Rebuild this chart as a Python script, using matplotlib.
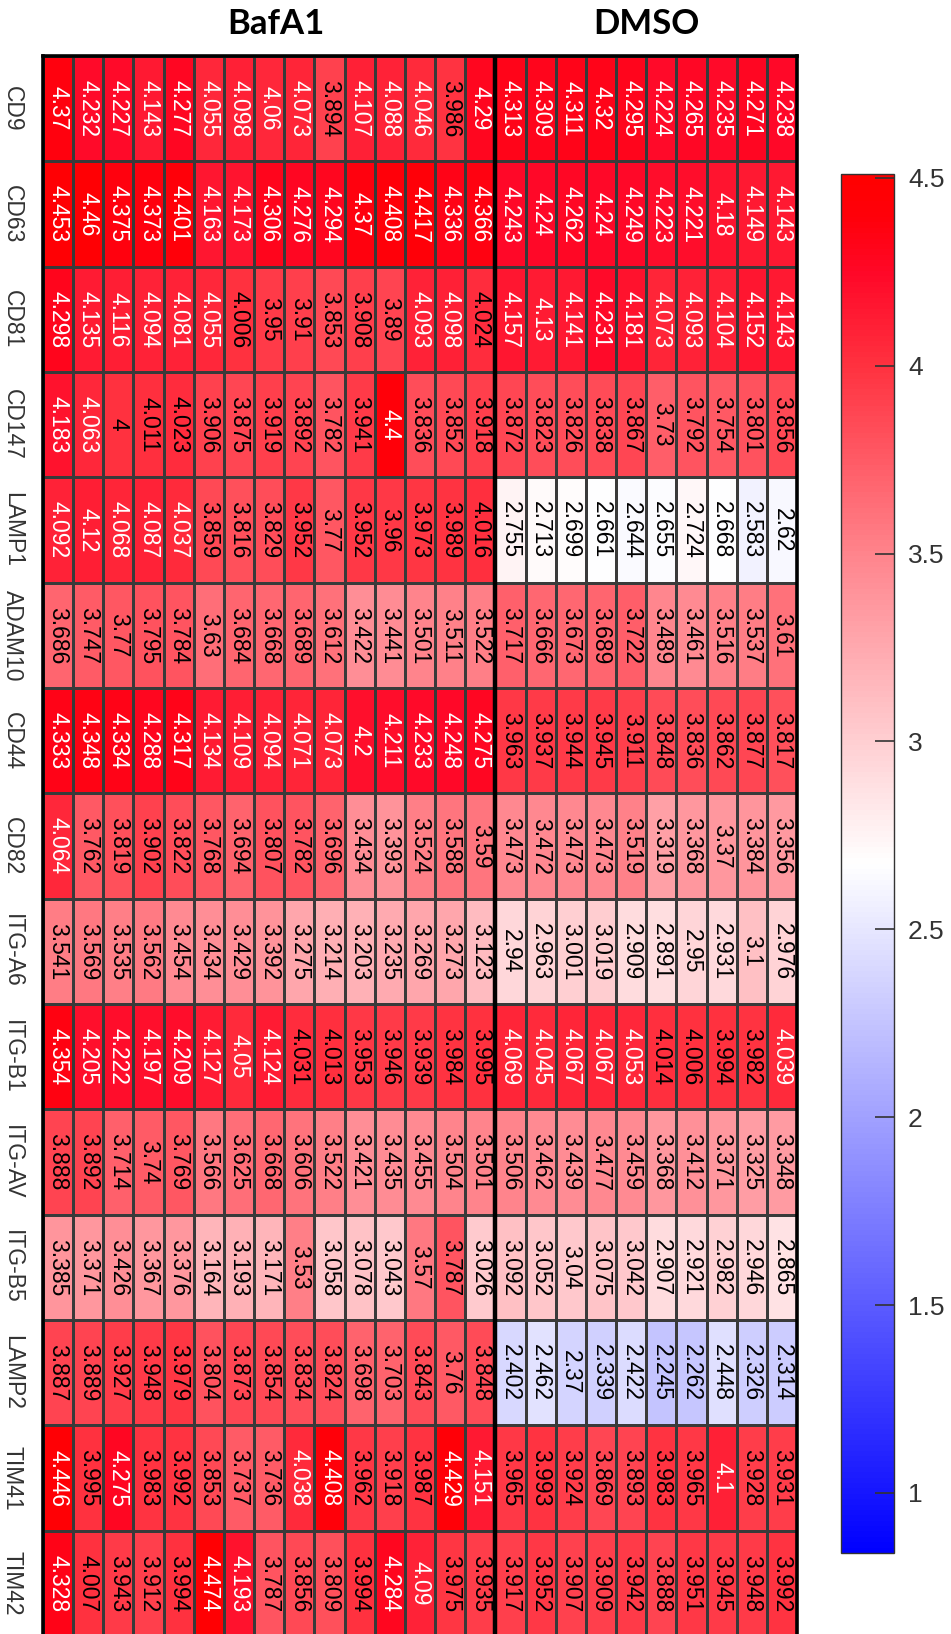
import numpy as np
import matplotlib
matplotlib.use("Agg")
import matplotlib.pyplot as plt
from matplotlib.colors import LinearSegmentedColormap
from matplotlib.ticker import FuncFormatter

plt.rcParams['font.family'] = ['Liberation Sans', 'DejaVu Sans']

markers = ['CD9', 'CD63', 'CD81', 'CD147', 'LAMP1', 'ADAM10', 'CD44', 'CD82',
           'ITG-A6', 'ITG-B1', 'ITG-AV', 'ITG-B5', 'LAMP2', 'TIM41', 'TIM42']
groups = ['BafA1', 'DMSO']
n_bafa1 = 15
n_dmso = 10

cd9 = [4.37, 4.232, 4.227, 4.143, 4.277, 4.055, 4.098, 4.06, 4.073, 3.894, 4.107, 4.088, 4.046, 3.986, 4.29,
       4.313, 4.309, 4.311, 4.32, 4.295, 4.224, 4.265, 4.235, 4.271, 4.238]
cd63 = [4.453, 4.46, 4.375, 4.373, 4.401, 4.163, 4.173, 4.306, 4.276, 4.294, 4.37, 4.408, 4.417, 4.336, 4.366,
        4.243, 4.24, 4.262, 4.24, 4.249, 4.223, 4.221, 4.18, 4.149, 4.143]
cd81 = [4.298, 4.135, 4.116, 4.094, 4.081, 4.055, 4.006, 3.95, 3.91, 3.853, 3.908, 3.89, 4.093, 4.098, 4.024,
        4.157, 4.13, 4.141, 4.231, 4.181, 4.073, 4.093, 4.104, 4.152, 4.143]
cd147 = [4.183, 4.063, 4.0, 4.011, 4.023, 3.906, 3.875, 3.919, 3.892, 3.782, 3.941, 4.4, 3.836, 3.852, 3.918,
         3.872, 3.823, 3.826, 3.838, 3.867, 3.73, 3.792, 3.754, 3.801, 3.856]
lamp1 = [4.092, 4.12, 4.068, 4.087, 4.037, 3.859, 3.816, 3.829, 3.952, 3.77, 3.952, 3.96, 3.973, 3.989, 4.016,
         2.755, 2.713, 2.699, 2.661, 2.644, 2.655, 2.724, 2.668, 2.583, 2.62]
adam10 = [3.686, 3.747, 3.77, 3.795, 3.784, 3.63, 3.684, 3.668, 3.689, 3.612, 3.422, 3.441, 3.501, 3.511, 3.522,
          3.717, 3.666, 3.673, 3.689, 3.722, 3.489, 3.461, 3.516, 3.537, 3.61]
cd44 = [4.333, 4.348, 4.334, 4.288, 4.317, 4.134, 4.109, 4.094, 4.071, 4.073, 4.2, 4.211, 4.233, 4.248, 4.275,
        3.963, 3.937, 3.944, 3.945, 3.911, 3.848, 3.836, 3.862, 3.877, 3.817]
cd82 = [4.064, 3.762, 3.819, 3.902, 3.822, 3.768, 3.694, 3.807, 3.782, 3.696, 3.434, 3.393, 3.524, 3.588, 3.59,
        3.473, 3.472, 3.473, 3.473, 3.519, 3.319, 3.368, 3.37, 3.384, 3.356]
itg_a6 = [3.541, 3.569, 3.535, 3.562, 3.454, 3.434, 3.429, 3.392, 3.275, 3.214, 3.203, 3.235, 3.269, 3.273, 3.123,
          2.94, 2.963, 3.001, 3.019, 2.909, 2.891, 2.95, 2.931, 3.1, 2.976]
itg_b1 = [4.354, 4.205, 4.222, 4.197, 4.209, 4.127, 4.05, 4.124, 4.031, 4.013, 3.953, 3.946, 3.939, 3.984, 3.995,
          4.069, 4.045, 4.067, 4.067, 4.053, 4.014, 4.006, 3.994, 3.982, 4.039]
itg_av = [3.888, 3.892, 3.714, 3.74, 3.769, 3.566, 3.625, 3.668, 3.606, 3.522, 3.421, 3.435, 3.455, 3.504, 3.501,
          3.506, 3.462, 3.439, 3.477, 3.459, 3.368, 3.412, 3.371, 3.325, 3.348]
itg_b5 = [3.385, 3.371, 3.426, 3.367, 3.376, 3.164, 3.193, 3.171, 3.53, 3.058, 3.078, 3.043, 3.57, 3.787, 3.026,
          3.092, 3.052, 3.04, 3.075, 3.042, 2.907, 2.921, 2.982, 2.946, 2.865]
lamp2 = [3.887, 3.889, 3.927, 3.948, 3.979, 3.804, 3.873, 3.854, 3.834, 3.824, 3.698, 3.703, 3.843, 3.76, 3.848,
         2.402, 2.462, 2.37, 2.339, 2.422, 2.245, 2.262, 2.448, 2.326, 2.314]
tim41 = [4.446, 3.995, 4.275, 3.983, 3.992, 3.853, 3.737, 3.736, 4.038, 4.408, 3.962, 3.918, 3.987, 4.429, 4.151,
         3.965, 3.993, 3.924, 3.869, 3.893, 3.983, 3.965, 4.1, 3.928, 3.931]
tim42 = [4.328, 4.007, 3.943, 3.912, 3.994, 4.474, 4.193, 3.787, 3.856, 3.809, 3.994, 4.284, 4.09, 3.975, 3.935,
         3.917, 3.952, 3.907, 3.909, 3.942, 3.888, 3.951, 3.945, 3.948, 3.992]

cbar_ticks = [1, 1.5, 2, 2.5, 3, 3.5, 4, 4.5]

data = np.array([cd9, cd63, cd81, cd147, lamp1, adam10, cd44, cd82,
                 itg_a6, itg_b1, itg_av, itg_b5, lamp2, tim41, tim42])
nrows, ncols = data.shape

W, H = 951, 1634
fig = plt.figure(figsize=(W / 100, H / 100), dpi=100)

# heatmap box in pixels (left, top, right, bottom)
x0, y0, x1, y1 = 43, 56, 797, 1636
ax = fig.add_axes([x0 / W, 1 - y1 / H, (x1 - x0) / W, (y1 - y0) / H])

vmin, vmax = 0.84, 4.51
# blue - white - red, a bit deeper/crimson on the high end like the original
anchors = [(0.84, (0, 0, 255)), (2.675, (255, 255, 255)), (3.5, (255, 132, 140)),
           (4.0, (255, 50, 64)), (4.25, (255, 8, 40)), (4.4, (255, 0, 10)), (4.51, (255, 0, 0))]
cmap = LinearSegmentedColormap.from_list(
    'bwr_m', [((v - vmin) / (vmax - vmin), tuple(c / 255 for c in rgb)) for v, rgb in anchors])

mesh = ax.pcolormesh(np.arange(ncols + 1), np.arange(nrows + 1), data,
                     cmap=cmap, vmin=vmin, vmax=vmax,
                     edgecolors='#3a3a3a', linewidth=0.9)
ax.set_xlim(0, ncols)
ax.set_ylim(nrows, 0)

for i in range(nrows):
    for j in range(ncols):
        v = data[i, j]
        ax.text(j + 0.5, i + 0.5, f"{v:g}", rotation=270,
                ha='center', va='center', fontsize=16.5,
                color='white' if v > 4.035 else 'black')

ax.set_xticks([])
ax.set_yticks(np.arange(nrows) + 0.5)
ax.set_yticklabels(markers, rotation=270, va='center', ha='center',
                   fontsize=16.5, color='#333333')
ax.tick_params(axis='y', length=0, pad=22)
for s in ax.spines.values():
    s.set_linewidth(2.6)
    s.set_color('black')
ax.axvline(n_bafa1, color='black', linewidth=3.2)

fig.text(276 / W, 1 - 24 / H, groups[0], ha='center', va='center',
         fontsize=25, fontweight='bold', family='Lato')
fig.text(646 / W, 1 - 24 / H, groups[1], ha='center', va='center',
         fontsize=25, fontweight='bold', family='Lato')

# colorbar
cax = fig.add_axes([841 / W, 1 - 1553 / H, 53 / W, (1553 - 174) / H])
cb = fig.colorbar(mesh, cax=cax, ticks=cbar_ticks)
cb.ax.yaxis.set_major_formatter(FuncFormatter(lambda v, p: f"{v:g}"))
cb.ax.tick_params(direction='in', length=14, width=1.2, color='#333333',
                  labelsize=19, labelcolor='#333333', pad=10)
cb.outline.set_linewidth(1.0)
cb.outline.set_edgecolor('#333333')

fig.savefig('out.png', dpi=100)
